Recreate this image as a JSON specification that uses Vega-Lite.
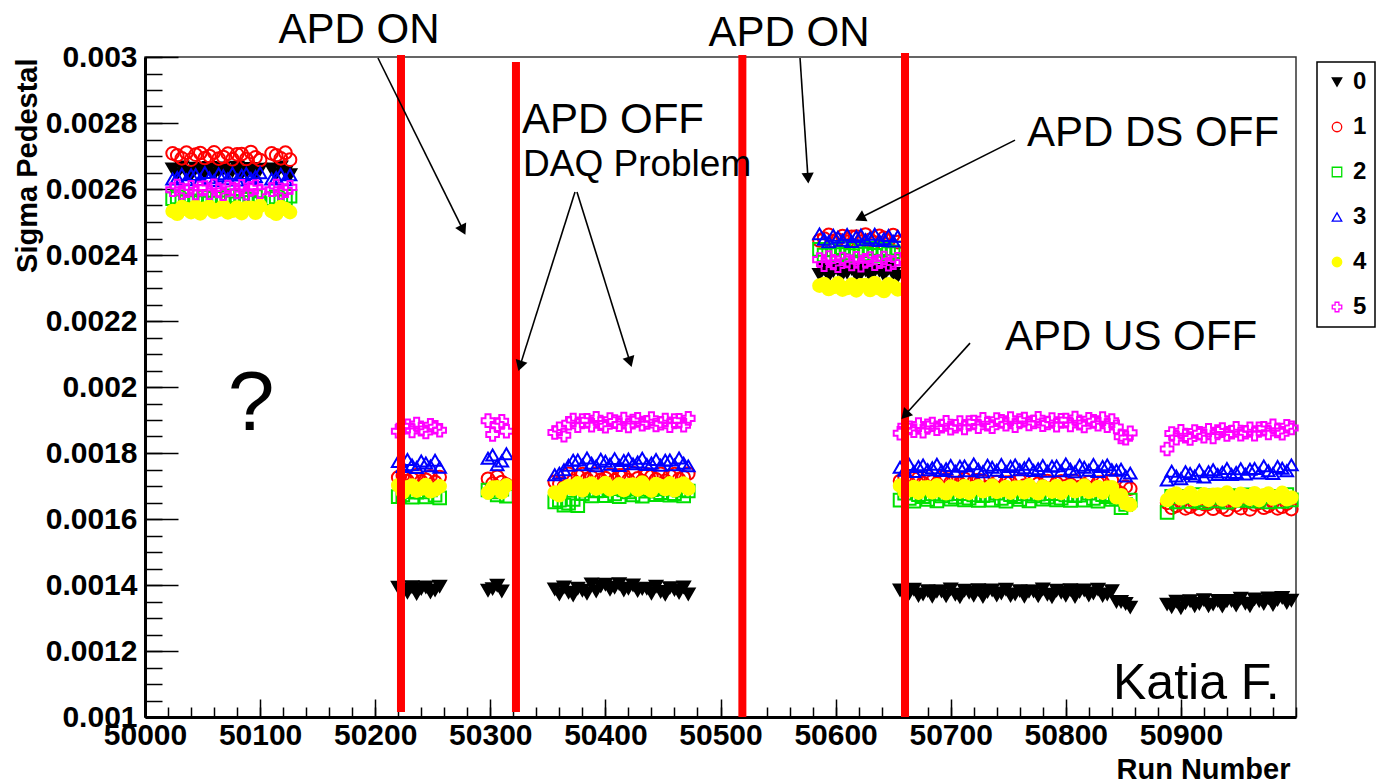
{
  "$schema": "https://vega.github.io/schema/vega-lite/v6.json",
  "width": 1151,
  "height": 660,
  "autosize": {"type": "none"},
  "padding": {"left": 145, "top": 57, "right": 99, "bottom": 66},
  "background": "white",
  "config": {
    "view": {"stroke": "#333333", "strokeWidth": 1.5},
    "font": "Liberation Sans",
    "axis": {"labelFont": "Liberation Sans", "titleFont": "Liberation Sans", "labelColor": "black", "titleColor": "black", "grid": false, "tickColor": "black", "domainColor": "black"},
    "legend": {"orient": "none", "legendX": 1172, "legendY": 5, "padding": 8, "rowPadding": 21, "strokeColor": "black", "strokeWidth": 1.5, "fillColor": "white", "labelFont": "Liberation Sans", "labelFontWeight": "bold", "labelFontSize": 24, "labelColor": "black", "labelOffset": 4, "symbolSize": 90, "symbolStrokeWidth": 1.3}
  },
  "datasets": {
    "pts": [
      {"run":50024,"0":0.002661,"1":0.002708,"2":0.002571,"3":0.002630,"4":0.002533,"5":0.002598},
      {"run":50028,"0":0.002646,"1":0.002702,"2":0.002576,"3":0.002635,"4":0.002525,"5":0.002609},
      {"run":50032,"0":0.002667,"1":0.002693,"2":0.002561,"3":0.002645,"4":0.002545,"5":0.002590},
      {"run":50036,"0":0.002651,"1":0.002710,"2":0.002567,"3":0.002628,"4":0.002539,"5":0.002595},
      {"run":50040,"0":0.002643,"1":0.002689,"2":0.002578,"3":0.002643,"4":0.002530,"5":0.002605},
      {"run":50044,"0":0.002663,"1":0.002704,"2":0.002559,"3":0.002644,"4":0.002547,"5":0.002588},
      {"run":50048,"0":0.002657,"1":0.002709,"2":0.002564,"3":0.002629,"4":0.002526,"5":0.002603},
      {"run":50052,"0":0.002648,"1":0.002694,"2":0.002574,"3":0.002650,"4":0.002541,"5":0.002604},
      {"run":50056,"0":0.002665,"1":0.002700,"2":0.002557,"3":0.002634,"4":0.002546,"5":0.002589},
      {"run":50060,"0":0.002644,"1":0.002711,"2":0.002572,"3":0.002626,"4":0.002531,"5":0.002610},
      {"run":50064,"0":0.002659,"1":0.002692,"2":0.002573,"3":0.002646,"4":0.002537,"5":0.002594},
      {"run":50068,"0":0.002664,"1":0.002697,"2":0.002558,"3":0.002640,"4":0.002548,"5":0.002586},
      {"run":50072,"0":0.002649,"1":0.002707,"2":0.002579,"3":0.002631,"4":0.002529,"5":0.002606},
      {"run":50076,"0":0.002655,"1":0.002690,"2":0.002563,"3":0.002648,"4":0.002534,"5":0.002600},
      {"run":50080,"0":0.002666,"1":0.002705,"2":0.002555,"3":0.002627,"4":0.002544,"5":0.002591},
      {"run":50084,"0":0.002647,"1":0.002706,"2":0.002575,"3":0.002642,"4":0.002527,"5":0.002608},
      {"run":50088,"0":0.002652,"1":0.002691,"2":0.002569,"3":0.002647,"4":0.002542,"5":0.002587},
      {"run":50092,"0":0.002662,"1":0.002712,"2":0.002560,"3":0.002632,"4":0.002543,"5":0.002602},
      {"run":50096,"0":0.002645,"1":0.002696,"2":0.002577,"3":0.002638,"4":0.002528,"5":0.002607},
      {"run":50100,"0":0.002660,"1":0.002688,"2":0.002556,"3":0.002649,"4":0.002549,"5":0.002592},
      {"run":50110,"0":0.002661,"1":0.002708,"2":0.002571,"3":0.002630,"4":0.002533,"5":0.002598},
      {"run":50114,"0":0.002646,"1":0.002702,"2":0.002576,"3":0.002635,"4":0.002525,"5":0.002609},
      {"run":50118,"0":0.002667,"1":0.002693,"2":0.002561,"3":0.002645,"4":0.002545,"5":0.002590},
      {"run":50122,"0":0.002651,"1":0.002710,"2":0.002567,"3":0.002628,"4":0.002539,"5":0.002595},
      {"run":50126,"0":0.002643,"1":0.002689,"2":0.002578,"3":0.002643,"4":0.002530,"5":0.002605},
      {"run":50220,"0":0.001393,"1":0.001726,"2":0.001668,"3":0.001774,"4":0.001702,"5":0.001866},
      {"run":50224,"0":0.001387,"1":0.001731,"2":0.001673,"3":0.001759,"4":0.001681,"5":0.001881},
      {"run":50228,"0":0.001378,"1":0.001716,"2":0.001683,"3":0.001780,"4":0.001696,"5":0.001882},
      {"run":50232,"0":0.001395,"1":0.001722,"2":0.001666,"3":0.001764,"4":0.001701,"5":0.001867},
      {"run":50236,"0":0.001374,"1":0.001733,"2":0.001681,"3":0.001756,"4":0.001686,"5":0.001888},
      {"run":50240,"0":0.001389,"1":0.001714,"2":0.001682,"3":0.001776,"4":0.001692,"5":0.001872},
      {"run":50244,"0":0.001394,"1":0.001719,"2":0.001667,"3":0.001770,"4":0.001703,"5":0.001864},
      {"run":50248,"0":0.001379,"1":0.001729,"2":0.001688,"3":0.001761,"4":0.001684,"5":0.001884},
      {"run":50252,"0":0.001385,"1":0.001712,"2":0.001672,"3":0.001778,"4":0.001689,"5":0.001878},
      {"run":50256,"0":0.001396,"1":0.001727,"2":0.001664,"3":0.001757,"4":0.001699,"5":0.001869},
      {"run":50298,"0":0.001384,"1":0.001722,"2":0.001688,"3":0.001784,"4":0.001680,"5":0.001898},
      {"run":50302,"0":0.001389,"1":0.001707,"2":0.001682,"3":0.001794,"4":0.001695,"5":0.001856},
      {"run":50306,"0":0.001399,"1":0.001728,"2":0.001673,"3":0.001764,"4":0.001696,"5":0.001886},
      {"run":50310,"0":0.001382,"1":0.001712,"2":0.001690,"3":0.001776,"4":0.001681,"5":0.001896},
      {"run":50314,"1":0.001704,"2":0.001669,"3":0.001798,"4":0.001702,"5":0.001866},
      {"run":50356,"0":0.001388,"1":0.001713,"2":0.001652,"3":0.001734,"4":0.001680,"5":0.001862},
      {"run":50360,"0":0.001373,"1":0.001707,"2":0.001657,"3":0.001739,"4":0.001672,"5":0.001873},
      {"run":50364,"0":0.001394,"1":0.001698,"2":0.001642,"3":0.001749,"4":0.001692,"5":0.001854},
      {"run":50368,"0":0.001378,"1":0.001737,"2":0.001648,"3":0.001763,"4":0.001700,"5":0.001890},
      {"run":50372,"0":0.001370,"1":0.001716,"2":0.001659,"3":0.001778,"4":0.001691,"5":0.001900},
      {"run":50376,"0":0.001390,"1":0.001731,"2":0.001640,"3":0.001779,"4":0.001708,"5":0.001883},
      {"run":50380,"0":0.001384,"1":0.001736,"2":0.001677,"3":0.001764,"4":0.001687,"5":0.001898},
      {"run":50384,"0":0.001375,"1":0.001721,"2":0.001687,"3":0.001785,"4":0.001702,"5":0.001899},
      {"run":50388,"0":0.001403,"1":0.001727,"2":0.001670,"3":0.001769,"4":0.001707,"5":0.001884},
      {"run":50392,"0":0.001382,"1":0.001738,"2":0.001685,"3":0.001761,"4":0.001692,"5":0.001905},
      {"run":50396,"0":0.001397,"1":0.001719,"2":0.001686,"3":0.001781,"4":0.001698,"5":0.001889},
      {"run":50400,"0":0.001402,"1":0.001724,"2":0.001671,"3":0.001775,"4":0.001709,"5":0.001881},
      {"run":50404,"0":0.001387,"1":0.001734,"2":0.001692,"3":0.001766,"4":0.001690,"5":0.001901},
      {"run":50408,"0":0.001393,"1":0.001717,"2":0.001676,"3":0.001783,"4":0.001695,"5":0.001895},
      {"run":50412,"0":0.001404,"1":0.001732,"2":0.001668,"3":0.001762,"4":0.001705,"5":0.001886},
      {"run":50416,"0":0.001385,"1":0.001733,"2":0.001688,"3":0.001777,"4":0.001688,"5":0.001903},
      {"run":50420,"0":0.001390,"1":0.001718,"2":0.001682,"3":0.001782,"4":0.001703,"5":0.001882},
      {"run":50424,"0":0.001400,"1":0.001739,"2":0.001673,"3":0.001767,"4":0.001704,"5":0.001897},
      {"run":50428,"0":0.001383,"1":0.001723,"2":0.001690,"3":0.001773,"4":0.001689,"5":0.001902},
      {"run":50432,"0":0.001389,"1":0.001715,"2":0.001669,"3":0.001784,"4":0.001710,"5":0.001887},
      {"run":50436,"0":0.001390,"1":0.001735,"2":0.001684,"3":0.001765,"4":0.001694,"5":0.001893},
      {"run":50440,"0":0.001375,"1":0.001729,"2":0.001689,"3":0.001770,"4":0.001686,"5":0.001904},
      {"run":50444,"0":0.001396,"1":0.001720,"2":0.001674,"3":0.001780,"4":0.001706,"5":0.001885},
      {"run":50448,"0":0.001380,"1":0.001737,"2":0.001680,"3":0.001763,"4":0.001700,"5":0.001890},
      {"run":50452,"0":0.001372,"1":0.001716,"2":0.001691,"3":0.001778,"4":0.001691,"5":0.001900},
      {"run":50456,"0":0.001392,"1":0.001731,"2":0.001672,"3":0.001779,"4":0.001708,"5":0.001883},
      {"run":50460,"0":0.001386,"1":0.001736,"2":0.001677,"3":0.001764,"4":0.001687,"5":0.001898},
      {"run":50464,"0":0.001377,"1":0.001721,"2":0.001687,"3":0.001785,"4":0.001702,"5":0.001899},
      {"run":50468,"0":0.001394,"1":0.001727,"2":0.001670,"3":0.001769,"4":0.001707,"5":0.001884},
      {"run":50472,"0":0.001373,"1":0.001738,"2":0.001685,"3":0.001761,"4":0.001692,"5":0.001905},
      {"run":50586,"0":0.002341,"1":0.002444,"2":0.002417,"3":0.002464,"4":0.002307,"5":0.002386},
      {"run":50590,"0":0.002358,"1":0.002450,"2":0.002400,"3":0.002448,"4":0.002312,"5":0.002371},
      {"run":50594,"0":0.002337,"1":0.002461,"2":0.002415,"3":0.002440,"4":0.002297,"5":0.002392},
      {"run":50598,"0":0.002352,"1":0.002442,"2":0.002416,"3":0.002460,"4":0.002303,"5":0.002376},
      {"run":50602,"0":0.002357,"1":0.002447,"2":0.002401,"3":0.002454,"4":0.002314,"5":0.002368},
      {"run":50606,"0":0.002342,"1":0.002457,"2":0.002422,"3":0.002445,"4":0.002295,"5":0.002388},
      {"run":50610,"0":0.002348,"1":0.002440,"2":0.002406,"3":0.002462,"4":0.002300,"5":0.002382},
      {"run":50614,"0":0.002359,"1":0.002455,"2":0.002398,"3":0.002441,"4":0.002310,"5":0.002373},
      {"run":50618,"0":0.002340,"1":0.002456,"2":0.002418,"3":0.002456,"4":0.002293,"5":0.002390},
      {"run":50622,"0":0.002345,"1":0.002441,"2":0.002412,"3":0.002461,"4":0.002308,"5":0.002369},
      {"run":50626,"0":0.002355,"1":0.002462,"2":0.002403,"3":0.002446,"4":0.002309,"5":0.002384},
      {"run":50630,"0":0.002338,"1":0.002446,"2":0.002420,"3":0.002452,"4":0.002294,"5":0.002389},
      {"run":50634,"0":0.002353,"1":0.002438,"2":0.002399,"3":0.002463,"4":0.002315,"5":0.002374},
      {"run":50638,"0":0.002354,"1":0.002458,"2":0.002414,"3":0.002444,"4":0.002299,"5":0.002380},
      {"run":50642,"0":0.002339,"1":0.002452,"2":0.002419,"3":0.002449,"4":0.002291,"5":0.002391},
      {"run":50646,"0":0.002360,"1":0.002443,"2":0.002404,"3":0.002459,"4":0.002311,"5":0.002372},
      {"run":50650,"0":0.002344,"1":0.002460,"2":0.002410,"3":0.002442,"4":0.002305,"5":0.002377},
      {"run":50654,"0":0.002336,"1":0.002439,"2":0.002421,"3":0.002457,"4":0.002296,"5":0.002387},
      {"run":50656,"0":0.001385,"1":0.001715,"2":0.001657,"3":0.001757,"4":0.001701,"5":0.001860},
      {"run":50660,"0":0.001370,"1":0.001725,"2":0.001678,"3":0.001748,"4":0.001682,"5":0.001881},
      {"run":50664,"0":0.001376,"1":0.001708,"2":0.001662,"3":0.001765,"4":0.001687,"5":0.001876},
      {"run":50668,"0":0.001387,"1":0.001723,"2":0.001654,"3":0.001744,"4":0.001697,"5":0.001868},
      {"run":50672,"0":0.001368,"1":0.001724,"2":0.001674,"3":0.001759,"4":0.001680,"5":0.001886},
      {"run":50676,"0":0.001373,"1":0.001709,"2":0.001668,"3":0.001764,"4":0.001695,"5":0.001866},
      {"run":50680,"0":0.001383,"1":0.001730,"2":0.001659,"3":0.001749,"4":0.001696,"5":0.001882},
      {"run":50684,"0":0.001366,"1":0.001714,"2":0.001676,"3":0.001755,"4":0.001681,"5":0.001888},
      {"run":50688,"0":0.001381,"1":0.001706,"2":0.001655,"3":0.001766,"4":0.001702,"5":0.001874},
      {"run":50692,"0":0.001382,"1":0.001726,"2":0.001670,"3":0.001747,"4":0.001686,"5":0.001881},
      {"run":50696,"0":0.001367,"1":0.001720,"2":0.001675,"3":0.001752,"4":0.001678,"5":0.001893},
      {"run":50700,"0":0.001388,"1":0.001711,"2":0.001660,"3":0.001762,"4":0.001698,"5":0.001875},
      {"run":50704,"0":0.001372,"1":0.001728,"2":0.001666,"3":0.001745,"4":0.001692,"5":0.001881},
      {"run":50708,"0":0.001364,"1":0.001707,"2":0.001677,"3":0.001760,"4":0.001683,"5":0.001892},
      {"run":50712,"0":0.001384,"1":0.001722,"2":0.001658,"3":0.001761,"4":0.001700,"5":0.001876},
      {"run":50716,"0":0.001378,"1":0.001727,"2":0.001663,"3":0.001746,"4":0.001679,"5":0.001892},
      {"run":50720,"0":0.001369,"1":0.001712,"2":0.001673,"3":0.001767,"4":0.001694,"5":0.001894},
      {"run":50724,"0":0.001386,"1":0.001718,"2":0.001656,"3":0.001751,"4":0.001699,"5":0.001880},
      {"run":50728,"0":0.001365,"1":0.001716,"2":0.001671,"3":0.001743,"4":0.001684,"5":0.001902},
      {"run":50732,"0":0.001380,"1":0.001697,"2":0.001672,"3":0.001763,"4":0.001690,"5":0.001887},
      {"run":50736,"0":0.001385,"1":0.001702,"2":0.001657,"3":0.001757,"4":0.001701,"5":0.001880},
      {"run":50740,"0":0.001370,"1":0.001712,"2":0.001678,"3":0.001748,"4":0.001682,"5":0.001901},
      {"run":50744,"0":0.001376,"1":0.001695,"2":0.001662,"3":0.001765,"4":0.001687,"5":0.001896},
      {"run":50748,"0":0.001387,"1":0.001710,"2":0.001654,"3":0.001744,"4":0.001697,"5":0.001887},
      {"run":50752,"0":0.001368,"1":0.001711,"2":0.001674,"3":0.001759,"4":0.001680,"5":0.001904},
      {"run":50756,"0":0.001373,"1":0.001696,"2":0.001668,"3":0.001764,"4":0.001695,"5":0.001883},
      {"run":50760,"0":0.001383,"1":0.001717,"2":0.001659,"3":0.001749,"4":0.001696,"5":0.001898},
      {"run":50764,"0":0.001366,"1":0.001701,"2":0.001676,"3":0.001755,"4":0.001681,"5":0.001903},
      {"run":50768,"0":0.001381,"1":0.001693,"2":0.001655,"3":0.001766,"4":0.001702,"5":0.001888},
      {"run":50772,"0":0.001382,"1":0.001713,"2":0.001670,"3":0.001747,"4":0.001686,"5":0.001894},
      {"run":50776,"0":0.001367,"1":0.001707,"2":0.001675,"3":0.001752,"4":0.001678,"5":0.001905},
      {"run":50780,"0":0.001388,"1":0.001698,"2":0.001660,"3":0.001762,"4":0.001698,"5":0.001886},
      {"run":50784,"0":0.001372,"1":0.001715,"2":0.001666,"3":0.001745,"4":0.001692,"5":0.001891},
      {"run":50788,"0":0.001364,"1":0.001694,"2":0.001677,"3":0.001760,"4":0.001683,"5":0.001901},
      {"run":50792,"0":0.001384,"1":0.001709,"2":0.001658,"3":0.001761,"4":0.001700,"5":0.001884},
      {"run":50796,"0":0.001378,"1":0.001714,"2":0.001663,"3":0.001746,"4":0.001679,"5":0.001899},
      {"run":50800,"0":0.001369,"1":0.001699,"2":0.001673,"3":0.001767,"4":0.001694,"5":0.001900},
      {"run":50804,"0":0.001386,"1":0.001705,"2":0.001656,"3":0.001751,"4":0.001699,"5":0.001885},
      {"run":50808,"0":0.001365,"1":0.001716,"2":0.001671,"3":0.001743,"4":0.001684,"5":0.001906},
      {"run":50812,"0":0.001380,"1":0.001697,"2":0.001672,"3":0.001763,"4":0.001690,"5":0.001890},
      {"run":50816,"0":0.001385,"1":0.001702,"2":0.001657,"3":0.001757,"4":0.001701,"5":0.001882},
      {"run":50820,"0":0.001370,"1":0.001712,"2":0.001678,"3":0.001748,"4":0.001682,"5":0.001902},
      {"run":50824,"0":0.001376,"1":0.001695,"2":0.001662,"3":0.001765,"4":0.001687,"5":0.001896},
      {"run":50828,"0":0.001387,"1":0.001710,"2":0.001654,"3":0.001744,"4":0.001697,"5":0.001887},
      {"run":50832,"0":0.001368,"1":0.001711,"2":0.001674,"3":0.001759,"4":0.001680,"5":0.001904},
      {"run":50836,"0":0.001373,"1":0.001696,"2":0.001668,"3":0.001764,"4":0.001695,"5":0.001883},
      {"run":50840,"0":0.001383,"1":0.001717,"2":0.001659,"3":0.001749,"4":0.001696,"5":0.001898},
      {"run":50844,"0":0.001350,"1":0.001686,"2":0.001665,"3":0.001748,"4":0.001666,"5":0.001879},
      {"run":50848,"0":0.001350,"1":0.001678,"2":0.001634,"3":0.001751,"4":0.001672,"5":0.001849},
      {"run":50852,"0":0.001344,"1":0.001698,"2":0.001644,"3":0.001730,"4":0.001648,"5":0.001845},
      {"run":50856,"0":0.001333,"1":0.001692,"2":0.001657,"3":0.001739,"4":0.001643,"5":0.001861},
      {"run":50888,"0":0.001342,"1":0.001649,"2":0.001620,"3":0.001718,"4":0.001657,"5":0.001812},
      {"run":50892,"0":0.001334,"1":0.001634,"2":0.001669,"3":0.001745,"4":0.001672,"5":0.001859},
      {"run":50896,"0":0.001351,"1":0.001640,"2":0.001652,"3":0.001730,"4":0.001677,"5":0.001845},
      {"run":50900,"0":0.001331,"1":0.001651,"2":0.001667,"3":0.001722,"4":0.001662,"5":0.001866},
      {"run":50904,"0":0.001346,"1":0.001632,"2":0.001668,"3":0.001743,"4":0.001668,"5":0.001851},
      {"run":50908,"0":0.001352,"1":0.001637,"2":0.001653,"3":0.001738,"4":0.001679,"5":0.001844},
      {"run":50912,"0":0.001337,"1":0.001647,"2":0.001674,"3":0.001730,"4":0.001660,"5":0.001865},
      {"run":50916,"0":0.001344,"1":0.001630,"2":0.001658,"3":0.001748,"4":0.001665,"5":0.001860},
      {"run":50920,"0":0.001355,"1":0.001645,"2":0.001650,"3":0.001727,"4":0.001675,"5":0.001851},
      {"run":50924,"0":0.001337,"1":0.001646,"2":0.001670,"3":0.001743,"4":0.001658,"5":0.001869},
      {"run":50928,"0":0.001342,"1":0.001631,"2":0.001664,"3":0.001749,"4":0.001673,"5":0.001849},
      {"run":50932,"0":0.001353,"1":0.001652,"2":0.001655,"3":0.001735,"4":0.001674,"5":0.001865},
      {"run":50936,"0":0.001336,"1":0.001636,"2":0.001672,"3":0.001742,"4":0.001659,"5":0.001871},
      {"run":50940,"0":0.001352,"1":0.001628,"2":0.001651,"3":0.001753,"4":0.001680,"5":0.001856},
      {"run":50944,"0":0.001353,"1":0.001648,"2":0.001666,"3":0.001735,"4":0.001664,"5":0.001863},
      {"run":50948,"0":0.001339,"1":0.001642,"2":0.001671,"3":0.001741,"4":0.001656,"5":0.001875},
      {"run":50952,"0":0.001360,"1":0.001633,"2":0.001656,"3":0.001752,"4":0.001676,"5":0.001857},
      {"run":50956,"0":0.001345,"1":0.001650,"2":0.001662,"3":0.001736,"4":0.001670,"5":0.001863},
      {"run":50960,"0":0.001337,"1":0.001629,"2":0.001673,"3":0.001751,"4":0.001661,"5":0.001873},
      {"run":50964,"0":0.001358,"1":0.001644,"2":0.001654,"3":0.001753,"4":0.001678,"5":0.001857},
      {"run":50968,"0":0.001352,"1":0.001649,"2":0.001659,"3":0.001739,"4":0.001657,"5":0.001873},
      {"run":50972,"0":0.001344,"1":0.001634,"2":0.001669,"3":0.001761,"4":0.001672,"5":0.001875},
      {"run":50976,"0":0.001361,"1":0.001640,"2":0.001652,"3":0.001746,"4":0.001677,"5":0.001861},
      {"run":50980,"0":0.001341,"1":0.001651,"2":0.001667,"3":0.001738,"4":0.001662,"5":0.001882},
      {"run":50984,"0":0.001356,"1":0.001632,"2":0.001668,"3":0.001759,"4":0.001668,"5":0.001867},
      {"run":50988,"0":0.001362,"1":0.001637,"2":0.001653,"3":0.001754,"4":0.001679,"5":0.001860},
      {"run":50992,"0":0.001347,"1":0.001647,"2":0.001674,"3":0.001746,"4":0.001660,"5":0.001881},
      {"run":50996,"0":0.001354,"1":0.001630,"2":0.001658,"3":0.001764,"4":0.001665,"5":0.001876}
    ],
    "vlines": [
      {"run": 50222.4, "top": 0.003006, "bottom": 0.001015},
      {"run": 50322.3, "top": 0.002985, "bottom": 0.001015},
      {"run": 50519.0, "top": 0.003006, "bottom": 0.001},
      {"run": 50660.3, "top": 0.003012, "bottom": 0.001}
    ],
    "arrows": [
      {"x1": 50202.4, "y1": 0.002997, "x2": 50276.3, "y2": 0.002476, "heading": 153.7},
      {"x1": 50373.6, "y1": 0.002591, "x2": 50325.8, "y2": 0.002064, "heading": 197.5},
      {"x1": 50375.3, "y1": 0.002591, "x2": 50421.4, "y2": 0.002076, "heading": 162.7},
      {"x1": 50569.1, "y1": 0.002997, "x2": 50576.0, "y2": 0.002633, "heading": 176.2},
      {"x1": 50755.9, "y1": 0.002748, "x2": 50621.2, "y2": 0.002512, "heading": 243.3},
      {"x1": 50716.8, "y1": 0.002133, "x2": 50660.3, "y2": 0.001915, "heading": 222.1}
    ],
    "notes": [
      {"label": "APD ON", "run": 50185.9, "sigma": 0.003082, "kind": "c"},
      {"label": "APD ON", "run": 50559.5, "sigma": 0.003073, "kind": "c"},
      {"label": "APD OFF", "run": 50327.5, "sigma": 0.002809, "kind": "l"},
      {"label": "DAQ Problem", "run": 50328.4, "sigma": 0.002673, "kind": "s"},
      {"label": "APD DS OFF", "run": 50766.3, "sigma": 0.00277, "kind": "l"},
      {"label": "APD US OFF", "run": 50747.2, "sigma": 0.002152, "kind": "l"},
      {"label": "Katia F.", "run": 50841, "sigma": 0.0011, "kind": "k"},
      {"label": "?", "run": 50092.1, "sigma": 0.001945, "kind": "q"}
    ]
  },
  "layer": [
    {
      "data": {"name": "pts"},
      "transform": [{"fold": ["0", "1", "2", "3", "4", "5"], "as": ["ch", "sigma"]}],
      "mark": {"type": "point", "size": 160, "strokeWidth": 2, "opacity": 1},
      "encoding": {
        "x": {"field": "run", "type": "quantitative", "scale": {"domain": [50000, 51000], "nice": false, "zero": false},
          "axis": {"orient": "bottom", "values": [50000, 50100, 50200, 50300, 50400, 50500, 50600, 50700, 50800, 50900], "format": "d", "labelFontSize": 30, "labelFontWeight": "bold", "labelFlush": false, "labelOverlap": false, "tickSize": -18, "tickWidth": 1.5, "labelPadding": 21, "domainWidth": 3, "title": "Run Number", "titleFontSize": 29, "titleFontWeight": "bold", "titleX": 1145, "titleY": 61, "titleAlign": "right", "titleBaseline": "alphabetic", "titleAnchor": "end"}},
        "y": {"field": "sigma", "type": "quantitative", "scale": {"domain": [0.001, 0.003], "nice": false, "zero": false},
          "axis": {"orient": "left", "values": [0.001, 0.0012, 0.0014, 0.0016, 0.0018, 0.002, 0.0022, 0.0024, 0.0026, 0.0028, 0.003], "format": "~g", "labelFontSize": 30, "labelFontWeight": "bold", "labelFlush": false, "labelOverlap": false, "tickSize": -33, "tickWidth": 1.5, "labelPadding": 41, "domainWidth": 3, "title": "Sigma Pedestal", "titleFontSize": 29, "titleFontWeight": "bold", "titleAngle": -90, "titleX": -118, "titleY": 1, "titleAlign": "right", "titleBaseline": "middle"}},
        "shape": {"field": "ch", "type": "nominal", "title": null, "scale": {"domain": ["0", "1", "2", "3", "4", "5"], "range": ["triangle-down", "circle", "square", "triangle-up", "circle", "cross"]}},
        "stroke": {"field": "ch", "type": "nominal", "title": null, "scale": {"domain": ["0", "1", "2", "3", "4", "5"], "range": ["#000000", "#ff0000", "#00e000", "#0000ff", "#ffff00", "#ff00ff"]}},
        "fill": {"field": "ch", "type": "nominal", "title": null, "scale": {"domain": ["0", "1", "2", "3", "4", "5"], "range": ["#000000", "transparent", "transparent", "transparent", "#ffff00", "transparent"]}},
        "order": {"field": "ch", "type": "ordinal"}
      }
    },
    {
      "data": {"name": "vlines"},
      "mark": {"type": "rule", "color": "#ff0000", "strokeWidth": 8, "strokeCap": "butt"},
      "encoding": {
        "x": {"field": "run", "type": "quantitative", "scale": {"domain": [50000, 51000], "nice": false, "zero": false},
          "axis": {"orient": "bottom", "values": [50000,50020,50040,50060,50080,50100,50120,50140,50160,50180,50200,50220,50240,50260,50280,50300,50320,50340,50360,50380,50400,50420,50440,50460,50480,50500,50520,50540,50560,50580,50600,50620,50640,50660,50680,50700,50720,50740,50760,50780,50800,50820,50840,50860,50880,50900,50920,50940,50960,50980,51000], "labels": false, "domain": false, "tickSize": -10, "tickWidth": 1.5, "title": null}},
        "y": {"field": "top", "type": "quantitative", "scale": {"domain": [0.001, 0.003], "nice": false, "zero": false},
          "axis": {"orient": "left", "values": [0.001,0.00105,0.0011,0.00115,0.0012,0.00125,0.0013,0.00135,0.0014,0.00145,0.0015,0.00155,0.0016,0.00165,0.0017,0.00175,0.0018,0.00185,0.0019,0.00195,0.002,0.00205,0.0021,0.00215,0.0022,0.00225,0.0023,0.00235,0.0024,0.00245,0.0025,0.00255,0.0026,0.00265,0.0027,0.00275,0.0028,0.00285,0.0029,0.00295,0.003], "labels": false, "domain": false, "tickSize": -17, "tickWidth": 1.5, "title": null}},
        "y2": {"field": "bottom"}
      }
    },
    {
      "data": {"name": "arrows"},
      "mark": {"type": "rule", "color": "black", "strokeWidth": 1.6},
      "encoding": {
        "x": {"field": "x1", "type": "quantitative", "scale": {"domain": [50000, 51000], "nice": false, "zero": false}, "axis": null},
        "y": {"field": "y1", "type": "quantitative", "scale": {"domain": [0.001, 0.003], "nice": false, "zero": false}, "axis": null},
        "x2": {"field": "x2"},
        "y2": {"field": "y2"}
      }
    },
    {
      "data": {"name": "arrows"},
      "mark": {"type": "point", "shape": "triangle-up", "filled": true, "color": "black", "size": 150, "opacity": 1},
      "encoding": {
        "x": {"field": "x2", "type": "quantitative", "scale": {"domain": [50000, 51000], "nice": false, "zero": false}, "axis": null},
        "y": {"field": "y2", "type": "quantitative", "scale": {"domain": [0.001, 0.003], "nice": false, "zero": false}, "axis": null},
        "angle": {"field": "heading", "type": "quantitative", "scale": null}
      }
    },
    {
      "data": {"name": "notes"},
      "transform": [{"filter": "datum.kind == 'c'"}],
      "mark": {"type": "text", "font": "Liberation Sans", "fontSize": 42, "align": "center", "baseline": "middle", "color": "black"},
      "encoding": {
        "x": {"field": "run", "type": "quantitative", "scale": {"domain": [50000, 51000], "nice": false, "zero": false}, "axis": null},
        "y": {"field": "sigma", "type": "quantitative", "scale": {"domain": [0.001, 0.003], "nice": false, "zero": false}, "axis": null},
        "text": {"field": "label"}
      }
    },
    {
      "data": {"name": "notes"},
      "transform": [{"filter": "datum.kind == 'l'"}],
      "mark": {"type": "text", "font": "Liberation Sans", "fontSize": 42, "align": "left", "baseline": "middle", "color": "black"},
      "encoding": {
        "x": {"field": "run", "type": "quantitative", "scale": {"domain": [50000, 51000], "nice": false, "zero": false}, "axis": null},
        "y": {"field": "sigma", "type": "quantitative", "scale": {"domain": [0.001, 0.003], "nice": false, "zero": false}, "axis": null},
        "text": {"field": "label"}
      }
    },
    {
      "data": {"name": "notes"},
      "transform": [{"filter": "datum.kind == 's'"}],
      "mark": {"type": "text", "font": "Liberation Sans", "fontSize": 37, "align": "left", "baseline": "middle", "color": "black"},
      "encoding": {
        "x": {"field": "run", "type": "quantitative", "scale": {"domain": [50000, 51000], "nice": false, "zero": false}, "axis": null},
        "y": {"field": "sigma", "type": "quantitative", "scale": {"domain": [0.001, 0.003], "nice": false, "zero": false}, "axis": null},
        "text": {"field": "label"}
      }
    },
    {
      "data": {"name": "notes"},
      "transform": [{"filter": "datum.kind == 'k'"}],
      "mark": {"type": "text", "font": "Liberation Sans", "fontSize": 50, "align": "left", "baseline": "middle", "color": "black"},
      "encoding": {
        "x": {"field": "run", "type": "quantitative", "scale": {"domain": [50000, 51000], "nice": false, "zero": false}, "axis": null},
        "y": {"field": "sigma", "type": "quantitative", "scale": {"domain": [0.001, 0.003], "nice": false, "zero": false}, "axis": null},
        "text": {"field": "label"}
      }
    },
    {
      "data": {"name": "notes"},
      "transform": [{"filter": "datum.kind == 'q'"}],
      "mark": {"type": "text", "font": "Liberation Sans", "fontSize": 84, "align": "center", "baseline": "middle", "color": "black"},
      "encoding": {
        "x": {"field": "run", "type": "quantitative", "scale": {"domain": [50000, 51000], "nice": false, "zero": false}, "axis": null},
        "y": {"field": "sigma", "type": "quantitative", "scale": {"domain": [0.001, 0.003], "nice": false, "zero": false}, "axis": null},
        "text": {"field": "label"}
      }
    }
  ],
  "resolve": {"axis": {"x": "independent", "y": "independent"}}
}
